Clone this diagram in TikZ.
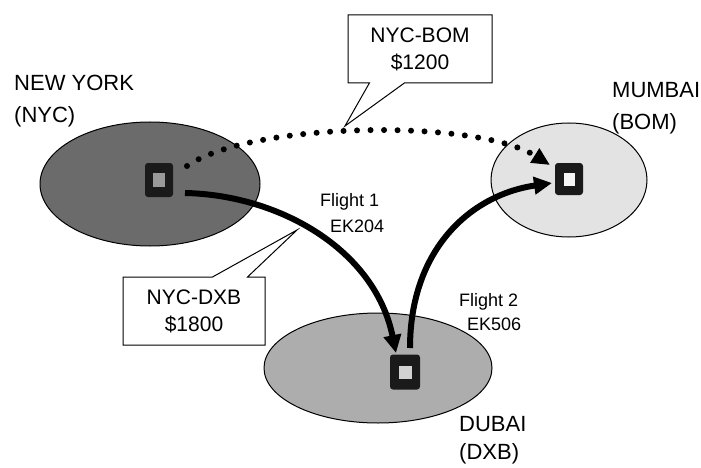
\documentclass[tikz,border=0pt]{standalone}
\usepackage{fontspec}
\setmainfont{Liberation Sans}
\usetikzlibrary{arrows.meta,shapes.geometric,shapes.callouts}
\definecolor{nycgray}{HTML}{6B6B6B}
\definecolor{dxbgray}{HTML}{ADADAD}
\definecolor{bomgray}{HTML}{E3E3E3}
\definecolor{boxdark}{HTML}{1A1A1A}
\begin{document}
\begin{tikzpicture}[x=1pt,y=-1pt,
  city/.style={ellipse,draw=black,line width=1pt,inner sep=0pt},
  big/.style={font=\fontsize{22}{32}\selectfont,inner sep=0pt,align=left},
  flt/.style={font=\fontsize{18}{22}\selectfont,inner sep=0pt},
  callbox/.style={rectangle callout,draw=black,line width=1pt,fill=white,
    inner sep=0pt,align=center,callout pointer width=35pt,
    font=\fontsize{21}{27}\selectfont,minimum height=68pt},
  outerbox/.style={fill=boxdark,rounded corners=3pt,inner sep=0pt},
  innerbox/.style={inner sep=0pt},
  flight/.style={line width=6pt,-{Triangle[length=18pt,width=17pt]}},
  direct/.style={line width=6pt,line cap=round,dash pattern=on 0pt off 13.5pt,
    -{Triangle[length=18pt,width=16pt]}}
]
\useasboundingbox (0,0) rectangle (701,468);
\fill[white] (0,0) rectangle (701,468);

% cities
\node[city,fill=nycgray,minimum width=220pt,minimum height=124pt] (nyc) at (150,184) {};
\node[city,fill=dxbgray,minimum width=228pt,minimum height=110pt] (dxb) at (378,368) {};
\node[city,fill=bomgray,minimum width=156pt,minimum height=114pt] (bom) at (569,180) {};

% city labels
\node[big,anchor=north west] (nyclbl) at (14,75) {NEW YORK\\(NYC)};
\node[big,anchor=north west] (bomlbl) at (612,82) {MUMBAI\\(BOM)};
\node[big,anchor=north west,font=\fontsize{22}{28}\selectfont] (dxblbl) at (459,416) {DUBAI\\(DXB)};

% callouts
\coordinate (tipbom) at (345,126);
\coordinate (tipdxb) at (297,230);
\node[callbox,minimum width=144pt,callout absolute pointer={(tipbom)}] (callbom) at (420,49) {NYC-BOM\\\$1200};
\node[callbox,minimum width=142pt,callout absolute pointer={(tipdxb)}] (calldxb) at (194,311) {NYC-DXB\\\$1800};

% flight labels
\node[flt,anchor=north west] (f1a) at (320,193) {Flight 1};
\node[flt,anchor=north west] (f1b) at (330,220) {EK204};
\node[flt,anchor=north west] (f2a) at (459,293) {Flight 2};
\node[flt,anchor=north west] (f2b) at (467,318) {EK506};

% airport boxes
\node[outerbox,minimum width=28pt,minimum height=34pt] (nycbox) at (159,180) {};
\node[innerbox,fill=gray!80,minimum width=12pt,minimum height=14pt] (nycin) at (nycbox.center) {};
\node[outerbox,minimum width=30pt,minimum height=35pt] (dxbbox) at (405,372) {};
\node[innerbox,fill=gray!35,minimum width=13pt,minimum height=13pt] (dxbin) at (dxbbox.center) {};
\node[outerbox,minimum width=28pt,minimum height=32pt] (bombox) at (569,179) {};
\node[innerbox,fill=gray!8,minimum width=11pt,minimum height=13pt] (bomin) at (bombox.center) {};

% connector ends (pixel offsets, y downwards)
\coordinate (d0) at ([shift={(28,-14)}]nycbox.center);
\coordinate (d1) at ([shift={(-19,-14)}]bombox.center);
\coordinate (a0) at ([shift={(26,13)}]nycbox.center);
\coordinate (a1) at ([shift={(-9,-19)}]dxbbox.center);
\coordinate (b0) at ([shift={(5,-24)}]dxbbox.center);
\coordinate (b1) at ([shift={(-17,4)}]bombox.center);

% connectors
\draw[direct] (d0) .. controls (250,122) and (475,118) .. (d1);
\draw[flight] (a0) .. controls (280,195) and (375,250) .. (a1);
\draw[flight] (b0) .. controls (410,250) and (470,195) .. (b1);
\end{tikzpicture}
\end{document}
